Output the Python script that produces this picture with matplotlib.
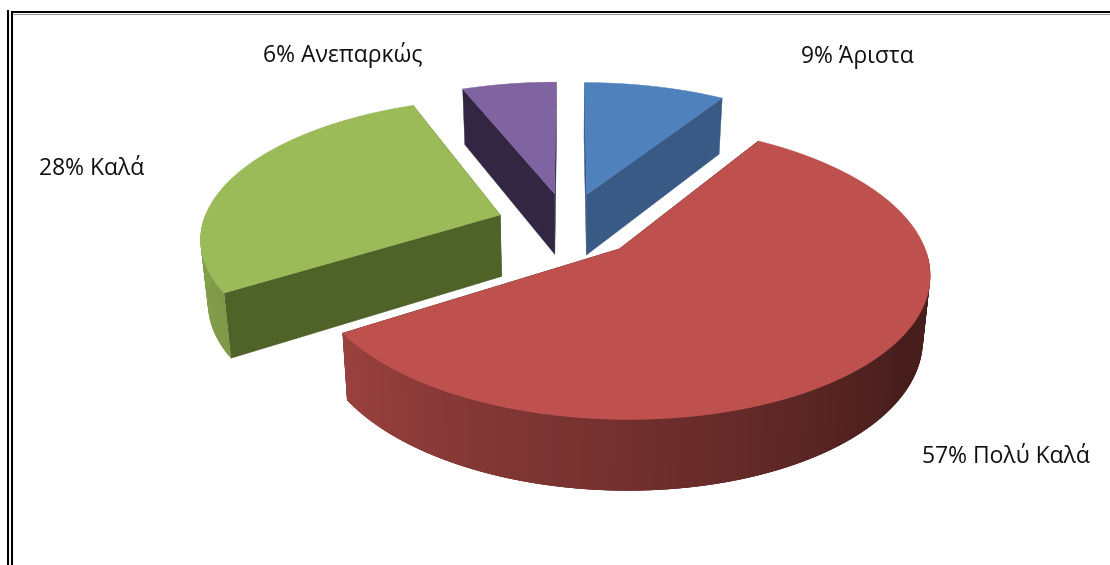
import numpy as np
import matplotlib
matplotlib.use("Agg")
import matplotlib.pyplot as plt
from matplotlib.patches import Polygon

names = ["Άριστα", "Πολύ Καλά", "Καλά", "Ανεπαρκώς"]
values = [9, 57, 28, 6]

top_colors = ["#4F81BD", "#BE504D", "#9BBB59", "#8064A2"]
cut_colors = ["#385A85", "#4A1C1A", "#4F6228", "#322642"]
label_xy = [(857, 57), (1006, 457), (92, 169), (343, 55)]

# pie geometry in pixels
cx, cy = 567.5, 225
radius = 298
tilt = 0.46
persp = 0.15
explode = 0.24
height = 62
shrink = 0.98


def project(u, v, bottom=False):
    s = 1 / (1 + persp * v)
    x = radius * u * s
    y = -radius * tilt * v * s
    if bottom:
        return cx + x * shrink, cy + y + height * (0.3 + 0.7 * s)
    return cx + x, cy + y


def rim_shade(theta):
    # lighter on the left of the wall, dark on the right
    deg = np.degrees(theta)
    return np.interp(deg, [90, 125, 180, 240, 270], [0.38, 0.38, 0.6, 0.82, 0.86])


def shaded(color, f):
    rgb = np.array(matplotlib.colors.to_rgb(color))
    return tuple(rgb * f)


def draw_slice(ax, start, end, top_color, cut_color):
    mid = (start + end) / 2
    ou, ov = explode * np.sin(mid), explode * np.cos(mid)
    th = np.linspace(start, end, 160)
    us = ou + np.sin(th)
    vs = ov + np.cos(th)

    # the two cut faces
    for idx in (0, -1):
        p1 = project(ou, ov)
        p2 = project(us[idx], vs[idx])
        p3 = project(us[idx], vs[idx], bottom=True)
        p4 = project(ou, ov, bottom=True)
        ax.add_patch(Polygon([p1, p2, p3, p4], fc=cut_color, ec=cut_color, lw=0.3))

    # outer wall, only the part that faces the viewer
    # every quad runs over the next one so no seams show
    for i in range(len(th) - 1):
        if np.cos((th[i] + th[i + 1]) / 2) > 0:
            continue
        j = min(i + 3, len(th) - 1)
        col = shaded(top_color, rim_shade((th[i] + th[i + 1]) / 2))
        quad = [project(us[i], vs[i]), project(us[j], vs[j]),
                project(us[j], vs[j], bottom=True), project(us[i], vs[i], bottom=True)]
        ax.add_patch(Polygon(quad, fc=col, ec="none"))

    # top of the slice
    pts = [project(ou, ov)] + [project(a, b) for a, b in zip(us, vs)]
    ax.add_patch(Polygon(pts, fc=top_color, ec=top_color, lw=0.3))


fig = plt.figure(figsize=(11.1, 5.65), dpi=100)
ax = fig.add_axes([0, 0, 1, 1])
ax.set_xlim(0, 1110)
ax.set_ylim(565, 0)
ax.axis("off")

# frame of the document page
ax.plot([8, 8], [10, 565], color="black", lw=1.5, solid_capstyle="butt")
ax.plot([11.7, 11.7], [12, 565], color="black", lw=1.5, solid_capstyle="butt")
ax.plot([11, 1110], [12, 12], color="black", lw=1.4, solid_capstyle="butt")
ax.plot([12.5, 1110], [13.7, 13.7], color="#999999", lw=0.8, solid_capstyle="butt")

edges = np.radians(np.concatenate([[0], np.cumsum(values)]) / sum(values) * 360)
order = [3, 0, 2, 1]  # back slices first
for i in order:
    draw_slice(ax, edges[i], edges[i + 1], top_colors[i], cut_colors[i])

for name, val, (x, y) in zip(names, values, label_xy):
    ax.text(x, y, f"{val}% {name}", ha="center", va="center", fontsize=16.5,
            family="Open Sans", color="#111111")

fig.savefig("out.png", dpi=100)
